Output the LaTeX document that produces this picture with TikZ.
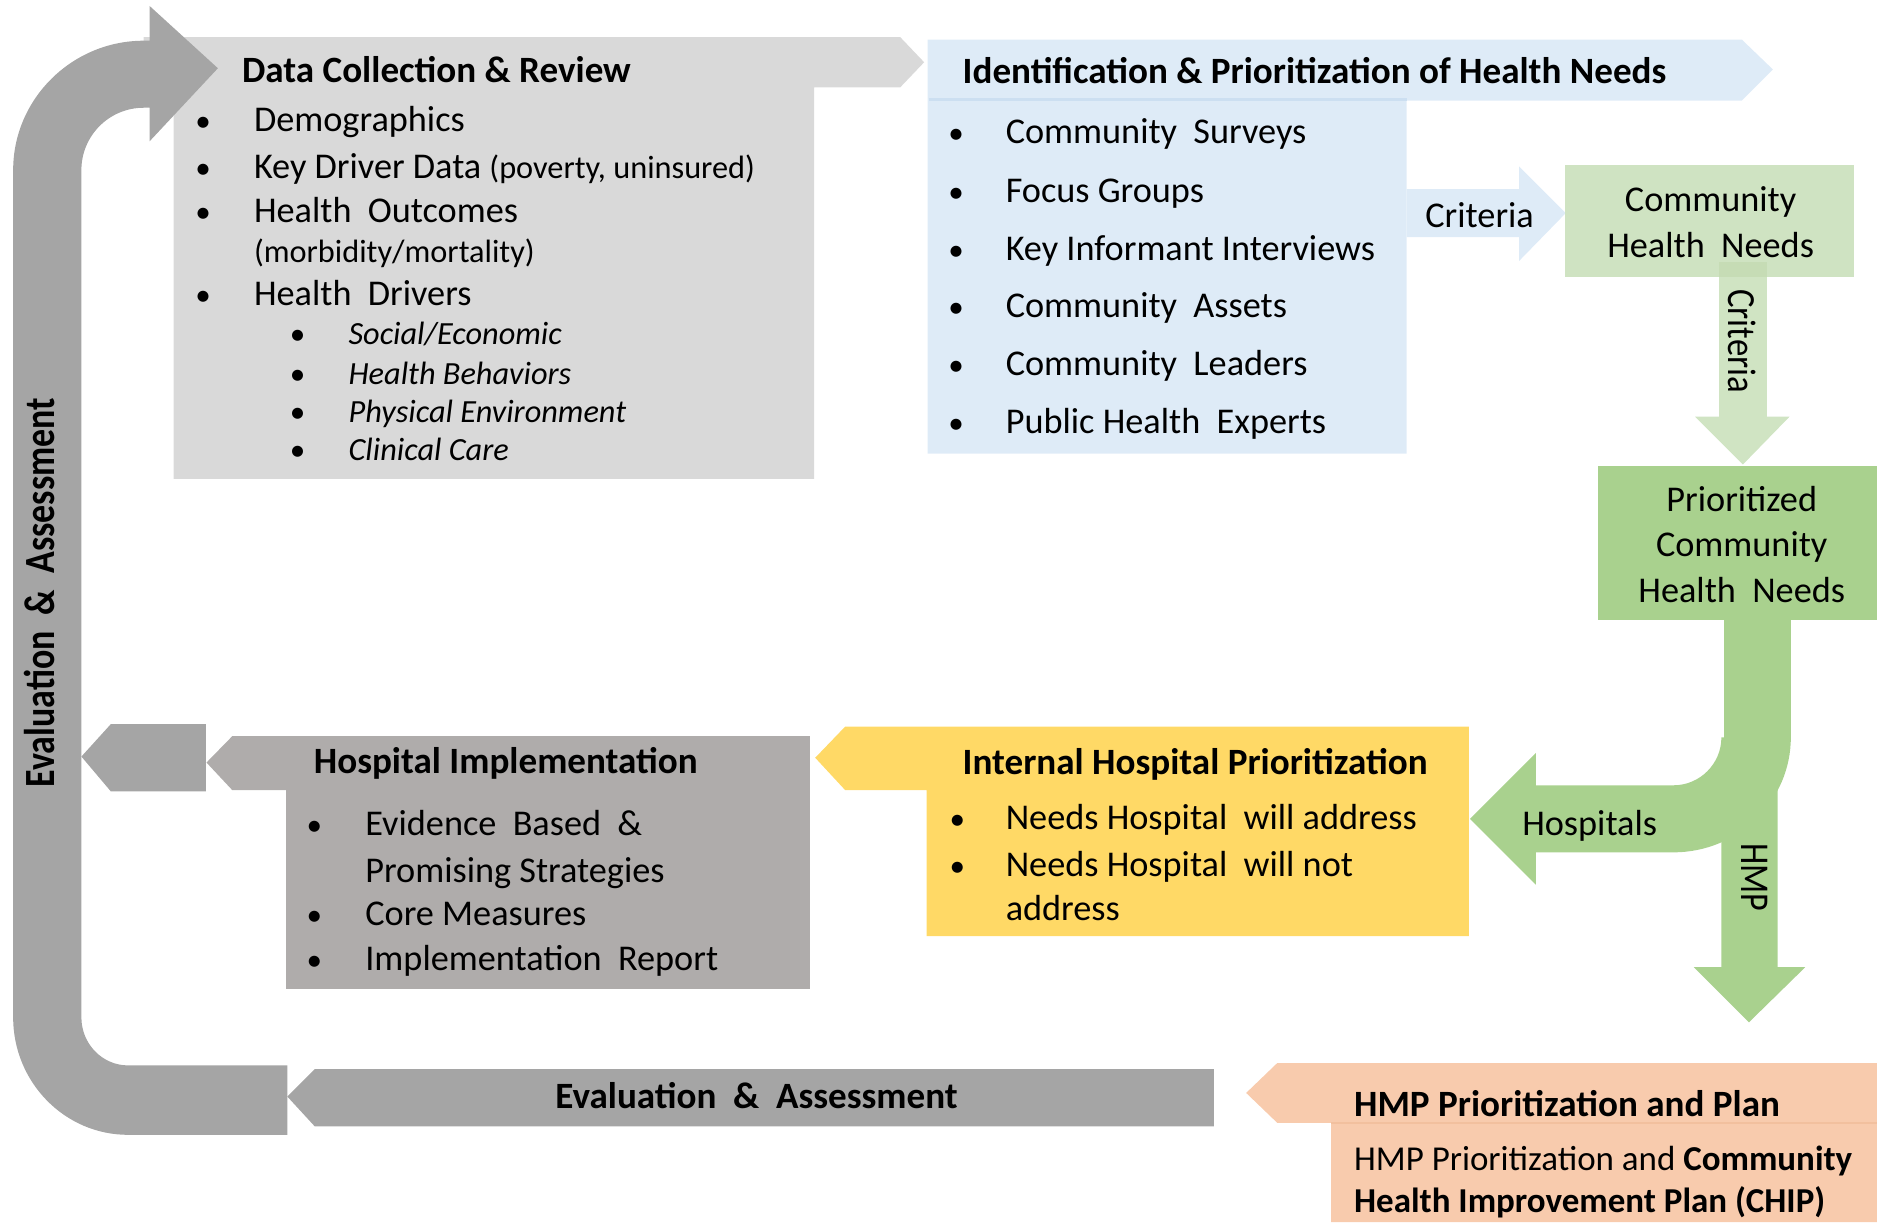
\documentclass[tikz,border=0pt]{standalone}
\usepackage{fontspec}
\setmainfont{Carlito}
\usepackage{graphicx}
\definecolor{bandgray}{HTML}{A5A5A5}
\definecolor{datagray}{HTML}{D9D9D9}
\definecolor{impgray}{HTML}{AFACAB}
\definecolor{lblue}{HTML}{DEEBF7}
\definecolor{lbline}{HTML}{CCDFF1}
\definecolor{lgreen}{HTML}{CFE3C2}
\definecolor{lgreenarr}{HTML}{D0E4C3}
\definecolor{lgreenov}{HTML}{C6DCB5}
\definecolor{mgreen}{HTML}{A9D18E}
\definecolor{yel}{HTML}{FFD966}
\definecolor{salmon}{HTML}{F8CBAD}
\definecolor{salline}{HTML}{F2C09E}
\newcommand{\wsp}{\hspace{0.45em}}
\begin{document}
\begin{tikzpicture}[x=1pt,y=-1pt,
  txt/.style={anchor=base west, inner sep=0pt, font=\fontsize{30.3}{36}\selectfont},
  ctxt/.style={txt, anchor=base},
  ttl/.style={anchor=base west, inner sep=0pt, font=\fontsize{31}{36}\selectfont\bfseries},
  sml/.style={anchor=base west, inner sep=0pt, font=\fontsize{27}{30}\selectfont},
  ita/.style={anchor=base west, inner sep=0pt, font=\fontsize{27}{30}\selectfont\itshape},
  bul/.style={anchor=base west, inner sep=0pt, font=\fontsize{26}{30}\selectfont},
  hmb/.style={anchor=base west, inner sep=0pt, font=\fontsize{29.2}{36}\selectfont},
  vtxt/.style={inner sep=0pt, anchor=center}]
\useasboundingbox (0,0) rectangle (1568,1021);

% ---------- Data Collection box ----------
\fill[datagray] (120,31) -- (752,31) -- (772,52) -- (752,73) -- (680,73) -- (680,400)
  -- (145,400) -- (145,73) -- (120,73) -- cycle;

% ---------- big U band ----------
\fill[bandgray] (182,57) -- (125,118) -- (125,90) -- (120,90)
  .. controls (91.3,90) and (68,113.3) .. (68,142)
  -- (68,850) .. controls (68,872) and (85.5,890) .. (107,890)
  -- (240,890) -- (240,948) -- (107,948)
  .. controls (54,948) and (11,904) .. (11,850)
  -- (11,142) .. controls (11,82.4) and (60.4,34) .. (120,34)
  -- (125,34) -- (125,5) -- cycle;

% ---------- Identification box ----------
\fill[lblue] (775,33) -- (1455,33) -- (1481,58) -- (1455,84) -- (1175,84) -- (1175,379)
  -- (775,379) -- cycle;
\draw[lbline, line width=2pt] (776,83) -- (1175,83);
% Criteria arrow right
\fill[lblue] (1175,158) -- (1269,158) -- (1269,139) -- (1308,178) -- (1269,218) -- (1269,198)
  -- (1175,198) -- cycle;

% ---------- Community health needs ----------
\fill[lgreen] (1307,138) rectangle (1549,231);
\fill[lgreenarr] (1436,231) -- (1476,231) -- (1476,348) -- (1495,348) -- (1456,388) -- (1416,348)
  -- (1436,348) -- cycle;
\fill[lgreenov] (1436,219) rectangle (1476,231);

% ---------- Prioritized box and fork ----------
\fill[mgreen] (1335,389) rectangle (1568,518);
\fill[mgreen] (1440.5,517) rectangle (1496,620);
\fill[mgreen] (1496,600) -- (1496,616) .. controls (1496,669) and (1452,712) .. (1398,712)
  -- (1283,712) -- (1283,739) -- (1228,684) -- (1283,629) -- (1283,656) -- (1398,656)
  .. controls (1420,656) and (1438,638) .. (1438,616) -- (1440.5,616) -- (1440.5,600) -- cycle;
\fill[mgreen] (1438,640) -- (1485,640) -- (1485,808) -- (1508,808) -- (1461,854) -- (1415,808)
  -- (1438,808) -- cycle;

% ---------- Internal hospital prioritization ----------
\fill[yel] (681,633) -- (706,607) -- (1227,607) -- (1227,782) -- (774,782) -- (774,660)
  -- (706,660) -- cycle;

% ---------- Hospital implementation ----------
\fill[impgray] (172.5,637) -- (194,615) -- (676.5,615) -- (676.5,826) -- (239,826) -- (239,660)
  -- (194,660) -- cycle;
\fill[bandgray] (68,632) -- (92.5,605) -- (172,605) -- (172,661) -- (92.5,661) -- cycle;

% ---------- Evaluation bottom bar ----------
\fill[bandgray] (240,916) -- (263,893) -- (1014,893) -- (1014,941) -- (263,941) -- cycle;

% ---------- HMP box ----------
\fill[salmon] (1041,913) -- (1067,888) -- (1568,888) -- (1568,1021) -- (1112,1021) -- (1112,938)
  -- (1067,938) -- cycle;
\draw[salline, line width=1.5pt] (1112,938) -- (1568,938);

% ---------- texts: data collection ----------
\node[ttl] (dcT) at (202,69) {Data Collection \& Review};
\node[bul] (dcb1) at (163,110) {\textbullet};
\node[txt] (dc1) at (212,110) {Demographics};
\node[bul] (dcb2) at (163,149) {\textbullet};
\node[txt] (dc2) at (212,149) {Key Driver Data {\fontsize{27}{30}\selectfont (poverty, uninsured)}};
\node[bul] (dcb3) at (163,186) {\textbullet};
\node[txt] (dc3) at (212,186) {Health\wsp Outcomes};
\node[sml] (dc4) at (212,219) {(morbidity/mortality)};
\node[bul] (dcb5) at (163,255) {\textbullet};
\node[txt] (dc5) at (212,255) {Health\wsp Drivers};
\node[bul] (dcs1b) at (242,288) {\textbullet};
\node[ita] (dcs1) at (291,288) {Social/Economic};
\node[bul] (dcs2b) at (242,321) {\textbullet};
\node[ita] (dcs2) at (291,321) {Health Behaviors};
\node[bul] (dcs3b) at (242,353) {\textbullet};
\node[ita] (dcs3) at (291,353) {Physical Environment};
\node[bul] (dcs4b) at (242,385) {\textbullet};
\node[ita] (dcs4) at (291,385) {Clinical Care};

% ---------- texts: identification ----------
\node[ttl] (idT) at (804,70) {Identification \& Prioritization of Health Needs};
\node[bul] (idb1) at (792,120) {\textbullet};
\node[txt] (id1) at (840,120) {Community\wsp Surveys};
\node[bul] (idb2) at (792,169) {\textbullet};
\node[txt] (id2) at (840,169) {Focus Groups};
\node[bul] (idb3) at (792,218) {\textbullet};
\node[txt] (id3) at (840,218) {Key Informant Interviews};
\node[bul] (idb4) at (792,265) {\textbullet};
\node[txt] (id4) at (840,265) {Community\wsp Assets};
\node[bul] (idb5) at (792,314) {\textbullet};
\node[txt] (id5) at (840,314) {Community\wsp Leaders};
\node[bul] (idb6) at (792,362) {\textbullet};
\node[txt] (id6) at (840,362) {Public Health\wsp Experts};

\node[ctxt] (crit1) at (1236,190) {Criteria};
\node[ctxt] (chn1) at (1429,177) {Community};
\node[ctxt] (chn2) at (1429,215) {Health\wsp Needs};
\node[vtxt, rotate=-90, font=\fontsize{29}{30}\selectfont] (crit2) at (1455,285) {\scalebox{1}[1.15]{Criteria}};
\node[ctxt] (pc1) at (1455,427) {Prioritized};
\node[ctxt] (pc2) at (1455,465) {Community};
\node[ctxt] (pc3) at (1455,503) {Health\wsp Needs};
\node[ctxt] (hosp) at (1328,698) {Hospitals};
\node[vtxt, rotate=-90, font=\fontsize{28.5}{30}\selectfont] (hmpv) at (1466,733) {\scalebox{1}[1.2]{HMP}};

% ---------- texts: internal hospital ----------
\node[ttl] (ihT) at (804,647) {Internal Hospital Prioritization};
\node[bul] (ihb1) at (793,693) {\textbullet};
\node[txt] (ih1) at (840,693) {Needs Hospital\wsp will address};
\node[bul] (ihb2) at (793,732) {\textbullet};
\node[txt] (ih2) at (840,732) {Needs Hospital\wsp will not};
\node[txt] (ih3) at (840,769) {address};

% ---------- texts: hospital implementation ----------
\node[ttl] (hiT) at (262,646) {Hospital Implementation};
\node[bul] (hib1) at (256,698) {\textbullet};
\node[txt] (hi1) at (305,698) {Evidence\wsp Based\wsp \&};
\node[txt] (hi2) at (305,737) {Promising Strategies};
\node[bul] (hib3) at (256,773) {\textbullet};
\node[txt] (hi3) at (305,773) {Core Measures};
\node[bul] (hib4) at (256,811) {\textbullet};
\node[txt] (hi4) at (305,811) {Implementation\wsp Report};

% ---------- texts: evaluation ----------
\node[ttl, anchor=base] (evB) at (632,926) {Evaluation\wsp \&\wsp Assessment};
\node[vtxt, rotate=90, font=\fontsize{30}{30}\selectfont\bfseries] (evL) at (33,495) {\scalebox{1}[1.2]{Evaluation\wsp \&\wsp Assessment}};

% ---------- texts: HMP ----------
\node[ttl] (hmT) at (1131,933) {HMP Prioritization and Plan};
\node[hmb] (hm1) at (1131,978) {HMP Prioritization and \textbf{Community}};
\node[hmb] (hm2) at (1131,1013) {\textbf{Health Improvement Plan (CHIP)}};
\end{tikzpicture}
\end{document}
